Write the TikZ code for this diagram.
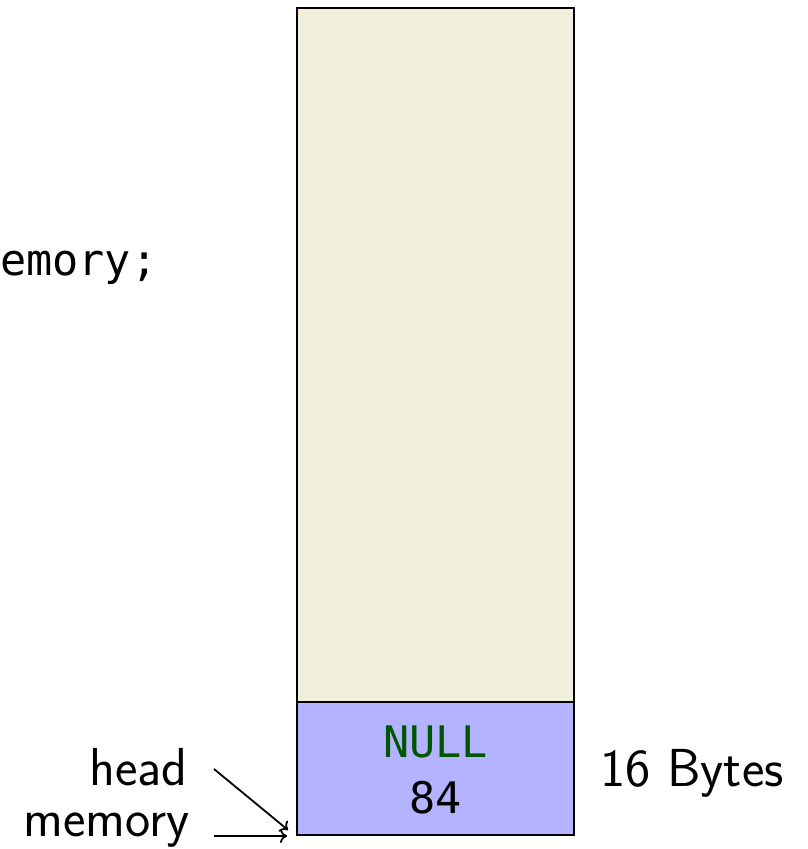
\documentclass[tikz,border=0pt]{standalone}
\usepackage{fontspec}
\setmonofont{DejaVu Sans Mono}
\usetikzlibrary{arrows.meta}
\definecolor{beige}{HTML}{F2EFDC}
\definecolor{membox}{HTML}{B3B3FF}
\definecolor{nullgreen}{HTML}{005500}
\tikzset{
  cell/.style={draw=black, line width=2pt},
  lbl/.style={font=\sffamily\fontsize{53.5}{60}\selectfont, inner sep=0pt},
  code/.style={font=\ttfamily\fontsize{43.5}{50}\selectfont, inner sep=0pt},
  ptr/.style={draw=black, line width=1.8pt, -{To[length=7pt,width=14pt]}}
}
\begin{document}
\begin{tikzpicture}[x=1pt,y=-1pt]
\useasboundingbox (0,0) rectangle (807,849);
\draw[cell, fill=beige] (297,8) rectangle (574,702);
\draw[cell, fill=membox] (297,702) rectangle (574,835);
\node[code, anchor=base west] (code) at (0,275) {emory;};
\node[code, text=nullgreen, anchor=base] (null) at (435.5,757) {NULL};
\node[code, anchor=base] (val) at (435.5,813) {84};
\node[lbl, anchor=base west] (size) at (600,786) {16 Bytes};
\node[lbl, anchor=base east] (head) at (188,785) {head};
\node[lbl, anchor=base east] (mem) at (190,836) {memory};
\coordinate (hs) at (214,769);
\coordinate (he) at (288,830);
\coordinate (ms) at (214,836);
\coordinate (me) at (287,836);
\draw[ptr] (hs) -- (he);
\draw[ptr] (ms) -- (me);
\end{tikzpicture}
\end{document}
